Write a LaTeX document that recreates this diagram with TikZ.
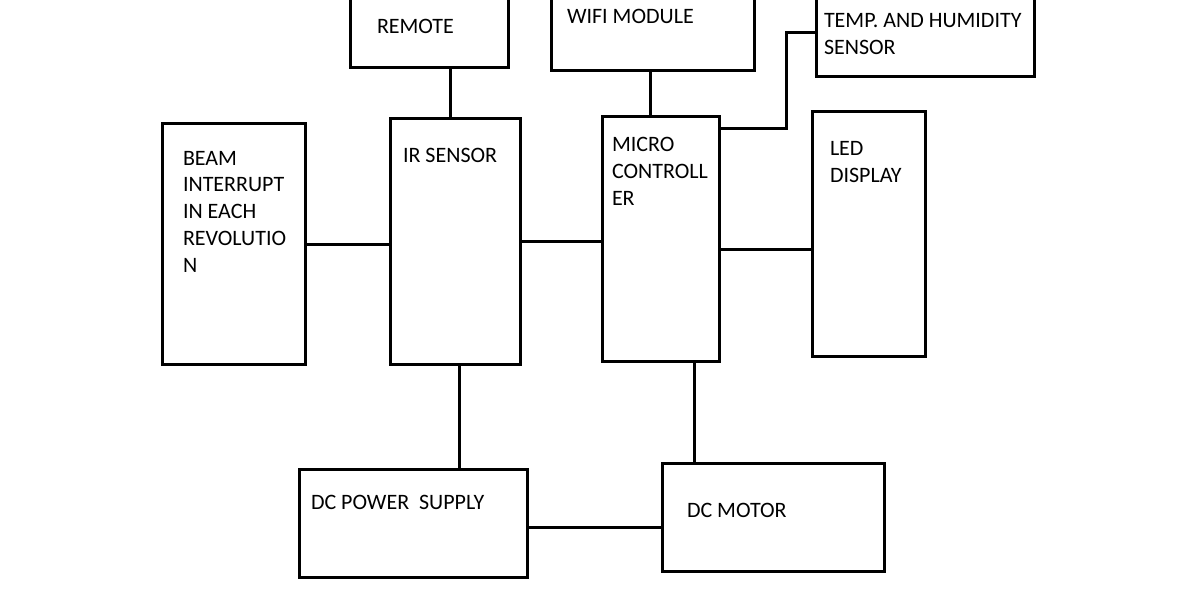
\documentclass[tikz,border=0pt]{standalone}
\usepackage{fontspec}
\setmainfont{Carlito}
\usetikzlibrary{fit}
\tikzset{
  box/.style={draw=black, line width=3pt, inner sep=0pt, outer sep=0pt},
  wire/.style={draw=black, line width=3pt},
  lbl/.style={anchor=base west, inner sep=0pt, outer sep=0pt, align=left,
    font=\fontsize{22}{26.7}\selectfont, text=black}
}
\begin{document}
\begin{tikzpicture}[x=1pt,y=-1pt]
\useasboundingbox (0,0) rectangle (1197,590);
% boxes
\node[box, fit={(350,-10) (508,67)}] (remote) {};
\node[box, fit={(551,-10) (754,70)}] (wifi) {};
\node[box, fit={(816,-10) (1034,76)}] (temp) {};
\node[box, fit={(162,123) (305,364)}] (beam) {};
\node[box, fit={(390,118) (520,364)}] (ir) {};
\node[box, fit={(602,116) (719,361)}] (mc) {};
\node[box, fit={(812,111) (925,356)}] (led) {};
\node[box, fit={(299,469) (527,577)}] (dcps) {};
\node[box, fit={(662,463) (884,571)}] (dcm) {};
% labels (anchor at baseline of last line)
\node[lbl] (tremote) at (377,33) {REMOTE};
\node[lbl] (twifi) at (567,23) {WIFI MODULE};
\node[lbl] (ttemp) at (824,54) {TEMP. AND HUMIDITY\\SENSOR};
\node[lbl] (tbeam) at (183,272) {BEAM\\INTERRUPT\\IN EACH\\REVOLUTIO\\N};
\node[lbl] (tir) at (403,162) {IR SENSOR};
\node[lbl] (tmc) at (612,205) {MICRO\\CONTROLL\\ER};
\node[lbl] (tled) at (830,182) {LED\\DISPLAY};
\node[lbl] (tdcps) at (311,509) {DC POWER\ \ SUPPLY};
\node[lbl] (tdcm) at (687,517) {DC MOTOR};
% connectors
\coordinate (bend) at (786,128);
\draw[wire] (remote.south -| 450,0) -- (ir.north -| 450,0);
\draw[wire] (wifi.south -| 650,0) -- (mc.north -| 650,0);
\draw[wire] (temp.west |- 0,32) -| (bend) -- (mc.east |- bend);
\draw[wire] (beam.east |- 0,244) -- (ir.west |- 0,244);
\draw[wire] (ir.east |- 0,241) -- (mc.west |- 0,241);
\draw[wire] (mc.east |- 0,249) -- (led.west |- 0,249);
\draw[wire] (ir.south -| 459,0) -- (dcps.north -| 459,0);
\draw[wire] (mc.south -| 694,0) -- (dcm.north -| 694,0);
\draw[wire] (dcps.east |- 0,527) -- (dcm.west |- 0,527);
\end{tikzpicture}
\end{document}
